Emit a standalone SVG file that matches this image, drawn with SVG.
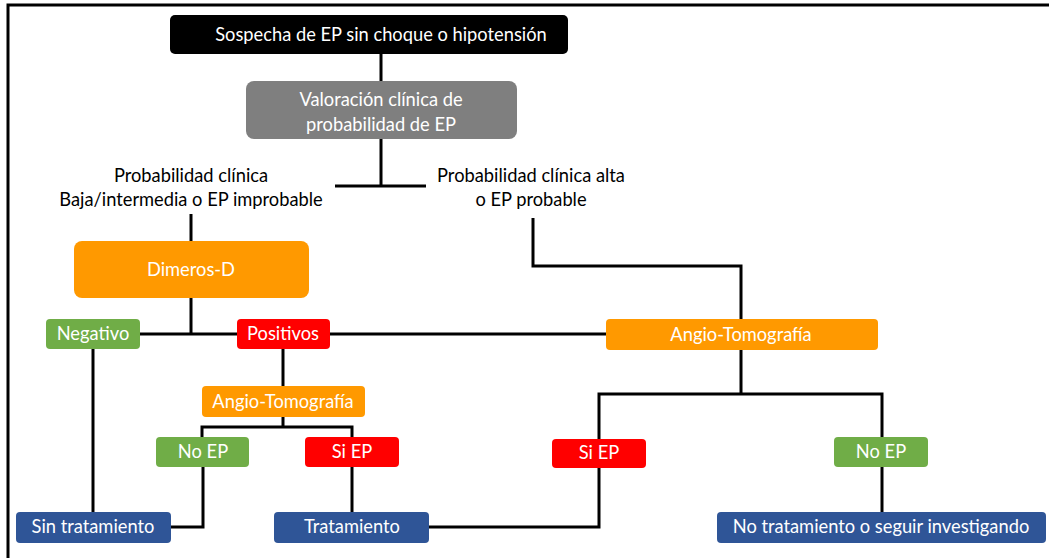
<svg xmlns="http://www.w3.org/2000/svg" width="1049" height="558" viewBox="0 0 1049 558">
<style>
.t{font-family:Lato,"Open Sans","Liberation Sans",sans-serif;font-size:18.3px;text-anchor:middle}
.w{fill:#fff}
.k{fill:#000}
.c{fill:none;stroke:#000;stroke-width:3}
.org{fill:#FF9900}
.grn{fill:#70AD47}
.red{fill:#FF0000}
.blu{fill:#2F5597}
</style>
<rect width="1049" height="558" fill="#fff"/>
<path d="M8,558 V5 H1049" fill="none" stroke="#000" stroke-width="3"/>
<g id="connectors" class="c">
<path d="M381,54 V81 M381,139 V186 M335,186 H426"/>
<path d="M191,214 V241"/>
<path d="M533,218 V266 H741 V319"/>
<path d="M191,298 V334 M140,334 H237 M330,334 H606"/>
<path d="M93,349 V512"/>
<path d="M283,349 V386"/>
<path d="M283,417 V427 M202,437 V427 H352 V437"/>
<path d="M203,467 V527 H171"/>
<path d="M352,467 V512"/>
<path d="M429,527 H599 V468"/>
<path d="M741,350 V394 M599,439 V394 H882 V437"/>
<path d="M882,467 V512"/>
</g>
<g id="n-sospecha"><rect x="170" y="15" width="398" height="39" rx="5" fill="#000"/><text class="t w" x="381" y="41">Sospecha de EP sin choque o hipotensión</text></g>
<g id="n-valoracion"><rect x="246" y="81" width="271" height="58" rx="8" fill="#7F7F7F"/><text class="t w" x="381" y="106">Valoración clínica de</text><text class="t w" x="381" y="131">probabilidad de EP</text></g>
<g id="l-baja"><text class="t k" x="191" y="182">Probabilidad clínica</text><text class="t k" x="191" y="206">Baja/intermedia o EP improbable</text></g>
<g id="l-alta"><text class="t k" x="531" y="182">Probabilidad clínica alta</text><text class="t k" x="531" y="206">o EP probable</text></g>
<g id="n-dimeros"><rect x="74" y="241" width="235" height="57" rx="8" class="org"/><text class="t w" x="191" y="276">Dimeros-D</text></g>
<g id="n-negativo"><rect x="46" y="319" width="94" height="30" rx="4" class="grn"/><text class="t w" x="93" y="340">Negativo</text></g>
<g id="n-positivos"><rect x="237" y="319" width="93" height="30" rx="4" class="red"/><text class="t w" x="283" y="340">Positivos</text></g>
<g id="n-angio2"><rect x="606" y="319" width="272" height="31" rx="4" class="org"/><text class="t w" x="741" y="341">Angio-Tomografía</text></g>
<g id="n-angio1"><rect x="202" y="386" width="163" height="31" rx="4" class="org"/><text class="t w" x="283" y="408">Angio-Tomografía</text></g>
<g id="n-noep1"><rect x="156" y="437" width="93" height="30" rx="4" class="grn"/><text class="t w" x="203" y="458">No EP</text></g>
<g id="n-siep1"><rect x="305" y="437" width="94" height="30" rx="4" class="red"/><text class="t w" x="352" y="458">Si EP</text></g>
<g id="n-siep2"><rect x="552" y="439" width="94" height="29" rx="4" class="red"/><text class="t w" x="599" y="459">Si EP</text></g>
<g id="n-noep2"><rect x="834" y="437" width="94" height="30" rx="4" class="grn"/><text class="t w" x="881" y="458">No EP</text></g>
<g id="n-sintrat"><rect x="16" y="512" width="155" height="31" rx="4" class="blu"/><text class="t w" x="93" y="533">Sin tratamiento</text></g>
<g id="n-trat"><rect x="274" y="512" width="155" height="31" rx="4" class="blu"/><text class="t w" x="352" y="533">Tratamiento</text></g>
<g id="n-notrat"><rect x="717" y="512" width="329" height="31" rx="4" class="blu"/><text class="t w" x="881" y="533">No tratamiento o seguir investigando</text></g>
</svg>
